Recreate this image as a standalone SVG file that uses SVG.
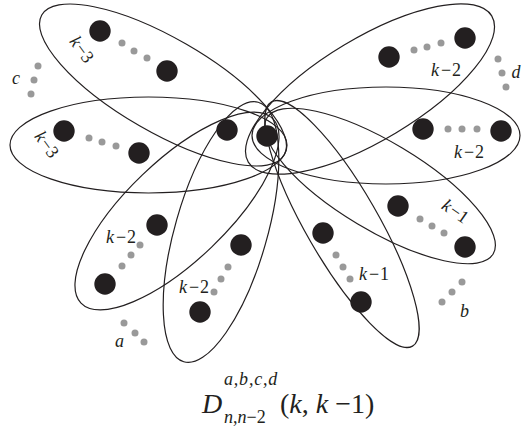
<svg xmlns="http://www.w3.org/2000/svg" width="522" height="436" viewBox="0 0 522 436">
<style>
.e{fill:none;stroke:#231f20;stroke-width:1.2}
.v{fill:#231f20}
.g{fill:#999}
.t{font-family:"Liberation Serif","Times New Roman",serif;font-size:18px;fill:#231f20}
.i{font-style:italic}
.m{font-family:"Liberation Serif","Times New Roman",serif;fill:#231f20}
</style>
<rect width="522" height="436" fill="#fff"/>
<g id="edge-A">
<ellipse class="e" cx="163" cy="85" rx="140" ry="47" transform="rotate(30 163 85)"/>
<circle class="v" cx="100" cy="31" r="10.7"/><circle class="v" cx="167" cy="71" r="10.7"/>
<circle class="g" cx="122" cy="43" r="3.5"/><circle class="g" cx="134" cy="51" r="3.5"/><circle class="g" cx="147" cy="58" r="3.5"/>
<text class="t" text-anchor="middle" transform="translate(81 50) rotate(54)" y="5"><tspan class="i">k</tspan><tspan dx="1">−</tspan>3</text>
</g>
<g id="edge-B">
<ellipse class="e" cx="148.5" cy="145" rx="138.5" ry="48"/>
<circle class="v" cx="64" cy="131" r="10.7"/><circle class="v" cx="139" cy="153" r="10.7"/>
<circle class="g" cx="89" cy="138" r="3.5"/><circle class="g" cx="102" cy="142" r="3.5"/><circle class="g" cx="116" cy="146" r="3.5"/>
<text class="t" text-anchor="middle" transform="translate(46 145) rotate(54)" y="5"><tspan class="i">k</tspan><tspan dx="1">−</tspan>3</text>
</g>
<g id="edge-C">
<ellipse class="e" cx="370" cy="89" rx="142" ry="51" transform="rotate(-31 370 89)"/>
<circle class="v" cx="389" cy="57" r="10.7"/><circle class="v" cx="465" cy="38" r="10.7"/>
<circle class="g" cx="414" cy="50" r="3.5"/><circle class="g" cx="427" cy="47" r="3.5"/><circle class="g" cx="441" cy="43" r="3.5"/>
<text class="t" text-anchor="middle" x="446" y="76"><tspan class="i">k</tspan><tspan dx="2">−</tspan><tspan dx="1">2</tspan></text>
</g>
<g id="edge-D">
<ellipse class="e" cx="386" cy="135.5" rx="134" ry="48.5"/>
<circle class="v" cx="423" cy="129" r="10.7"/><circle class="v" cx="501" cy="131" r="10.7"/>
<circle class="g" cx="448" cy="129" r="3.5"/><circle class="g" cx="462" cy="129" r="3.5"/><circle class="g" cx="477" cy="129" r="3.5"/>
<text class="t" text-anchor="middle" x="469" y="158"><tspan class="i">k</tspan><tspan dx="2">−</tspan><tspan dx="1">2</tspan></text>
</g>
<g id="edge-E">
<ellipse class="e" cx="380" cy="186" rx="132" ry="44" transform="rotate(31 380 186)"/>
<circle class="v" cx="398" cy="206" r="10.7"/><circle class="v" cx="465" cy="247" r="10.7"/>
<circle class="g" cx="420" cy="219" r="3.5"/><circle class="g" cx="432" cy="226" r="3.5"/><circle class="g" cx="444" cy="233" r="3.5"/>
<text class="t" text-anchor="middle" transform="translate(455 212) rotate(35)" y="5"><tspan class="i">k</tspan><tspan dx="1">−</tspan>1</text>
</g>
<g id="edge-F">
<ellipse class="e" cx="342" cy="224" rx="141" ry="36" transform="rotate(60 342 224)"/>
<circle class="v" cx="323" cy="233" r="10.7"/><circle class="v" cx="361" cy="302" r="10.7"/>
<circle class="g" cx="336" cy="255" r="3.5"/><circle class="g" cx="343" cy="267" r="3.5"/><circle class="g" cx="350" cy="279" r="3.5"/>
<text class="t" text-anchor="middle" x="374" y="280"><tspan class="i">k</tspan><tspan dx="2">−</tspan><tspan dx="1">1</tspan></text>
</g>
<g id="edge-G">
<ellipse class="e" cx="221" cy="232" rx="135" ry="46" transform="rotate(-74 221 232)"/>
<circle class="v" cx="241" cy="245" r="10.7"/><circle class="v" cx="200" cy="312" r="10.7"/>
<circle class="g" cx="228" cy="267" r="3.5"/><circle class="g" cx="221" cy="279" r="3.5"/><circle class="g" cx="214" cy="292" r="3.5"/>
<text class="t" text-anchor="middle" x="194" y="293"><tspan class="i">k</tspan><tspan dx="2">−</tspan><tspan dx="1">2</tspan></text>
</g>
<g id="edge-H">
<ellipse class="e" cx="177" cy="211" rx="133" ry="50" transform="rotate(-43.8 177 211)"/>
<circle class="v" cx="157" cy="225" r="10.7"/><circle class="v" cx="105" cy="284" r="10.7"/>
<circle class="g" cx="140" cy="245" r="3.5"/><circle class="g" cx="131" cy="255" r="3.5"/><circle class="g" cx="122" cy="266" r="3.5"/>
<text class="t" text-anchor="middle" x="121" y="243"><tspan class="i">k</tspan><tspan dx="2">−</tspan><tspan dx="1">2</tspan></text>
</g>
<g id="center">
<circle class="v" cx="227" cy="130" r="10.7"/><circle class="v" cx="267" cy="136" r="10.7"/>
</g>
<g id="group-c">
<circle class="g" cx="38" cy="66" r="3.5"/><circle class="g" cx="34" cy="80" r="3.5"/><circle class="g" cx="31" cy="94" r="3.5"/>
<text class="t i" x="12" y="84">c</text>
</g>
<g id="group-d">
<circle class="g" cx="498" cy="59" r="3.5"/><circle class="g" cx="502" cy="73" r="3.5"/><circle class="g" cx="506" cy="87" r="3.5"/>
<text class="t i" x="511.5" y="78">d</text>
</g>
<g id="group-b">
<circle class="g" cx="462" cy="282" r="3.5"/><circle class="g" cx="452" cy="292" r="3.5"/><circle class="g" cx="442" cy="302" r="3.5"/>
<text class="t i" x="460" y="317">b</text>
</g>
<g id="group-a">
<circle class="g" cx="124" cy="323" r="3.5"/><circle class="g" cx="135" cy="333" r="3.5"/><circle class="g" cx="144" cy="342" r="3.5"/>
<text class="t i" x="115" y="347">a</text>
</g>
<g id="title">
<text class="m" x="202" y="413" font-size="28"><tspan font-style="italic">D</tspan></text>
<text class="m" x="224" y="385" font-size="18" font-style="italic" letter-spacing="0.8">a,b,c,d</text>
<text class="m" x="224" y="423" font-size="18"><tspan font-style="italic">n</tspan>,<tspan font-style="italic">n</tspan>−2</text>
<text class="m" x="280" y="413" font-size="28">(<tspan font-style="italic">k</tspan>, <tspan font-style="italic">k</tspan> −1)</text>
</g>
</svg>
